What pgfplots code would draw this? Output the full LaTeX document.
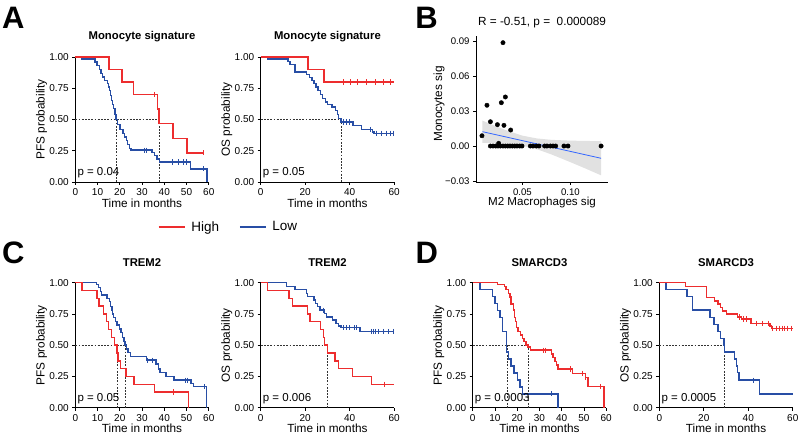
\documentclass[border=0pt]{standalone}
\usepackage{fontspec}
\setmainfont{Liberation Sans}
\usepackage{pgfplots}
\pgfplotsset{compat=1.18}
\definecolor{kmred}{RGB}{237,45,46}
\definecolor{kmblue}{RGB}{40,78,165}
\definecolor{smoothc}{RGB}{51,102,255}
\definecolor{ribbonc}{RGB}{205,205,205}
\pgfplotsset{
  every axis title shift=0pt,
  base/.style={scale only axis, clip=false,
    axis x line*=bottom, axis y line*=left,
    axis line style={line width=0.8pt,-},
    tick align=outside, major tick length=3pt,
    tick style={black, line width=0.8pt},
    ticklabel style={font=\fontsize{10}{11}\selectfont},
    scaled ticks=false},
  km/.style={base, width=133.5pt, height=125pt, xmin=0, xmax=60, ymin=0, ymax=1,
    ytick={0,0.25,0.5,0.75,1}, yticklabels={0.00,0.25,0.50,0.75,1.00},
    xlabel={Time in months},
    xlabel style={at={(axis description cs:0.5,-0.168)}, anchor=center, font=\fontsize{11.8}{13}\selectfont},
    ylabel style={at={(axis description cs:-0.253,0.5)}, anchor=center, font=\fontsize{11.8}{13}\selectfont},
    title style={at={(axis description cs:0.5,1.16)}, anchor=center, font=\bfseries\fontsize{11.3}{13}\selectfont}},
  pfs/.style={km, xtick={0,10,20,30,40,50,60}, xticklabels={0,10,20,30,40,50,60}, ylabel={PFS probability}},
  os/.style={km, xtick={0,20,40,60}, xticklabels={0,20,40,60}, ylabel={OS probability}},
  hi/.style={const plot, color=kmred, line width=1.4pt, mark=none, forget plot},
  lo/.style={const plot, color=kmblue, line width=1.4pt, mark=none, forget plot},
  cens/.style={only marks, mark=|, mark size=2.6pt, line width=1pt, forget plot},
  med/.style={color=black!80, line width=0.5pt, dash pattern=on 1.8pt off 1.4pt, mark=none, forget plot},
}
\newcommand{\pval}[1]{\node[anchor=west, inner sep=0pt, font=\fontsize{11.5}{13}\selectfont] at (axis cs:0.9,0.072) {#1};}
\begin{document}
\begin{tikzpicture}
\useasboundingbox (0,0) rectangle (800pt,443pt);
% panel letters
\node[font=\bfseries\fontsize{31}{31}\selectfont] at (13.3pt,425.5pt) {A};
\node[font=\bfseries\fontsize{31}{31}\selectfont] at (426.5pt,425.5pt) {B};
\node[font=\bfseries\fontsize{31}{31}\selectfont] at (13.3pt,189.7pt) {C};
\node[font=\bfseries\fontsize{31}{31}\selectfont] at (426.7pt,189.7pt) {D};

% ---------------- A : PFS
\begin{axis}[pfs, at={(75.3pt,261pt)}, anchor=south west, title={Monocyte signature},
  legend style={at={(axis description cs:1.148,-0.36)}, anchor=center, draw=none, fill=none,
    legend columns=2, font=\fontsize{13.5}{15}\selectfont,
    /tikz/every even column/.append style={column sep=18pt}},
  legend image code/.code={\draw[#1] (0pt,0pt) -- (26pt,0pt); \path (30pt,0pt);}]
\addlegendimage{color=kmred, line width=1.4pt}\addlegendentry{High}
\addlegendimage{color=kmblue, line width=1.4pt}\addlegendentry{Low}
\addplot[med] coordinates {(0,0.5) (37.7,0.5)};
\addplot[med] coordinates {(18.3,0.5) (18.3,0)};
\addplot[med] coordinates {(37.7,0.5) (37.7,0)};
\addplot[lo] coordinates {(0,1) (2.9,0.985) (8.9,0.96) (9.8,0.93) (10.8,0.90) (11.6,0.87) (12.3,0.84) (13.2,0.81) (14.5,0.79) (14.9,0.76) (15.3,0.73) (15.8,0.69) (16.4,0.65) (16.8,0.62) (17.3,0.59) (17.9,0.54) (18.3,0.50) (19.1,0.46) (20.1,0.42) (21.4,0.39) (22.1,0.36) (22.9,0.33) (23.5,0.30) (24.4,0.27) (25.0,0.255) (34.4,0.235) (35.5,0.21) (36.7,0.185) (37.9,0.16) (51.7,0.105) (59.2,0)};
\addplot[cens, color=kmblue] coordinates {(31.0,0.255) (32.2,0.255) (43.5,0.16) (46.5,0.16) (48.7,0.16) (50.2,0.16) (57.4,0.105)};
\addplot[hi] coordinates {(0,1) (15.2,0.9) (20.9,0.8) (26.2,0.7) (37.0,0.583) (37.7,0.467) (43.9,0.35) (50.2,0.233) (57.4,0.233)};
\addplot[cens, color=kmred] coordinates {(35.5,0.7) (57.4,0.233)};
\pval{p = 0.04}
\end{axis}

% ---------------- A : OS
\begin{axis}[os, at={(260.7pt,261pt)}, anchor=south west, title={Monocyte signature}]
\addplot[med] coordinates {(0,0.5) (36.2,0.5)};
\addplot[med] coordinates {(36.2,0.5) (36.2,0)};
\addplot[lo] coordinates {(0,1) (3,0.985) (12.2,0.965) (13.2,0.94) (15.5,0.88) (20.7,0.86) (21.8,0.835) (23,0.81) (23.9,0.79) (24.9,0.76) (25.8,0.73) (26.9,0.70) (27.9,0.67) (29,0.64) (30,0.62) (32,0.60) (33.5,0.57) (34.4,0.54) (35,0.51) (36,0.48) (41.4,0.45) (45.2,0.42) (50.3,0.40) (51,0.39) (60,0.39)};
\addplot[cens, color=kmblue] coordinates {(37.2,0.48) (38.7,0.48) (39.9,0.48) (49.2,0.42) (52.2,0.39) (54.5,0.39) (56.7,0.39) (58.2,0.39) (59.8,0.39)};
\addplot[hi] coordinates {(0,1) (21.2,0.9) (28.5,0.8) (59.8,0.8)};
\addplot[cens, color=kmred] coordinates {(37.2,0.8) (40.2,0.8) (43.5,0.8) (47.7,0.8) (51.5,0.8) (55.2,0.8) (58.2,0.8)};
\pval{p = 0.05}
\end{axis}

% ---------------- B : scatter
\begin{axis}[base, at={(476pt,261pt)}, anchor=south west, width=132pt, height=145.5pt,
  xmin=0.0017, xmax=0.1392, ymin=-0.0308, ymax=0.0938,
  xtick={0.05,0.1}, xticklabels={0.05,0.10},
  ytick={-0.03,0,0.03,0.06,0.09}, yticklabels={−0.03,0.00,0.03,0.06,0.09},
  ticklabel style={font=\fontsize{9.6}{11}\selectfont},
  xlabel={M2 Macrophages sig}, ylabel={Monocytes sig},
  title={R = -0.51, p =\ \ 0.000089},
  xlabel style={at={(axis description cs:0.5,-0.144)}, anchor=center, font=\fontsize{11.6}{13}\selectfont},
  ylabel style={at={(axis description cs:-0.28,0.536)}, anchor=center, font=\fontsize{11.8}{13}\selectfont},
  title style={at={(axis description cs:0.5,1.093)}, anchor=center, font=\fontsize{11.8}{13}\selectfont}]
\addplot[only marks, mark=*, mark size=2.2pt, color=black] coordinates {
(0.0298,0.0885) (0.0131,0.0349) (0.0281,0.0371) (0.0323,0.042)
(0.0079,0.0088) (0.0167,0.0208) (0.024,0.0183) (0.0308,0.0177) (0.0378,0.0137) (0.0253,0.0023)
(0.0167,0) (0.0194,0) (0.0222,0) (0.0246,0) (0.0271,0) (0.0298,0) (0.0323,0) (0.0347,0) (0.0371,0) (0.0396,0) (0.042,0) (0.0444,0) (0.0472,0) (0.0496,0)
(0.0583,0) (0.061,0) (0.0646,0) (0.0673,0) (0.0732,0) (0.0756,0) (0.0792,0) (0.0819,0) (0.0847,0) (0.0933,0) (0.0975,0) (0.132,0)};
\addplot[draw=none, fill=ribbonc, fill opacity=0.6] coordinates {
(0.0083,0.0218) (0.02,0.0177) (0.035,0.0129) (0.05,0.0089) (0.065,0.0065) (0.08,0.0053) (0.1,0.0046) (0.115,0.0044) (0.132,0.0041)
(0.132,-0.0251) (0.115,-0.0190) (0.1,-0.0138) (0.08,-0.0071) (0.065,-0.0027) (0.05,0.0003) (0.035,0.0019) (0.02,0.0025) (0.0083,0.0028)} -- cycle;
\addplot[color=smoothc, line width=0.8pt, mark=none] coordinates {(0.0083,0.0123) (0.132,-0.0105)};
\end{axis}

% ---------------- C : PFS
\begin{axis}[pfs, at={(75.3pt,35.3pt)}, anchor=south west, title={TREM2}]
\addplot[med] coordinates {(0,0.5) (22.5,0.5)};
\addplot[med] coordinates {(18.7,0.5) (18.7,0)};
\addplot[med] coordinates {(22.5,0.5) (22.5,0)};
\addplot[lo] coordinates {(0,1) (9.4,0.985) (10.4,0.96) (11.2,0.93) (11.9,0.90) (14.2,0.875) (15.3,0.85) (15.7,0.81) (16.5,0.78) (16.8,0.75) (17.2,0.72) (18,0.69) (18.7,0.66) (19.8,0.63) (20.6,0.60) (21.3,0.56) (21.8,0.53) (22.4,0.50) (23,0.47) (23.7,0.44) (24.8,0.41) (31.9,0.38) (36.3,0.35) (37.3,0.31) (38.1,0.28) (40.7,0.25) (44.4,0.22) (52,0.195) (53.2,0.17) (59,0)};
\addplot[cens, color=kmblue] coordinates {(32.5,0.38) (34.8,0.38) (49.7,0.22) (50.5,0.22) (58,0.17)};
\addplot[hi] coordinates {(0,1) (3,0.9375) (9.7,0.875) (10.7,0.8125) (12.7,0.75) (13.9,0.6875) (15,0.625) (16.2,0.5625) (17.6,0.5) (18.7,0.4375) (19.2,0.375) (20.3,0.3125) (22.8,0.25) (26.3,0.1875) (35.7,0.125) (50.8,0)};
\addplot[cens, color=kmred] coordinates {(44,0.125)};
\pval{p = 0.05}
\end{axis}

% ---------------- C : OS
\begin{axis}[os, at={(260.7pt,35.3pt)}, anchor=south west, title={TREM2}]
\addplot[med] coordinates {(0,0.5) (30.1,0.5)};
\addplot[med] coordinates {(30.1,0.5) (30.1,0)};
\addplot[lo] coordinates {(0,1) (11.7,0.97) (15.4,0.945) (20.6,0.915) (21.1,0.89) (23.9,0.86) (24.5,0.835) (25.6,0.81) (26.6,0.78) (28.6,0.755) (29.6,0.725) (32.3,0.70) (33.8,0.675) (34.9,0.655) (36.1,0.64) (44.6,0.61) (60,0.61)};
\addplot[cens, color=kmblue] coordinates {(28.1,0.78) (37.1,0.64) (38.6,0.64) (40.1,0.64) (42,0.64) (43.1,0.64) (49.8,0.61) (50.6,0.61) (51.6,0.61) (52.8,0.61) (55,0.61) (57.3,0.61) (59.6,0.61)};
\addplot[hi] coordinates {(0,1) (3,0.9375) (12.7,0.875) (14.4,0.8125) (21.1,0.75) (22.1,0.6875) (26.9,0.625) (28.1,0.5625) (28.7,0.5) (30.1,0.4375) (33.4,0.375) (34.9,0.3125) (41.3,0.25) (49.8,0.1875) (60,0.1875)};
\addplot[cens, color=kmred] coordinates {(55.8,0.1875)};
\pval{p = 0.006}
\end{axis}

% ---------------- D : PFS
\begin{axis}[pfs, at={(472.7pt,35.3pt)}, anchor=south west, title={SMARCD3}]
\addplot[med] coordinates {(0,0.5) (24.9,0.5)};
\addplot[med] coordinates {(15.4,0.5) (15.4,0)};
\addplot[med] coordinates {(24.9,0.5) (24.9,0)};
\addplot[lo] coordinates {(0,1) (3.3,0.944) (9,0.889) (10,0.833) (11.2,0.778) (12.2,0.722) (13.3,0.611) (15.2,0.444) (16,0.389) (17.2,0.333) (18.5,0.278) (20,0.222) (21.2,0.167) (22.4,0.111) (38.4,0)};
\addplot[cens, color=kmblue] coordinates {(35.4,0.111)};
\addplot[hi] coordinates {(0,1) (11.2,0.985) (14.2,0.97) (14.9,0.945) (16,0.915) (16.7,0.885) (17.2,0.83) (18.2,0.78) (18.7,0.72) (19.3,0.69) (19.7,0.64) (20.4,0.61) (21.5,0.58) (22.4,0.555) (23.1,0.53) (23.9,0.50) (24.9,0.485) (26.1,0.46) (35.4,0.43) (36.1,0.40) (37,0.37) (37.6,0.34) (38.4,0.31) (44.8,0.275) (50.6,0.24) (51.9,0.17) (59,0)};
\addplot[cens, color=kmred] coordinates {(31.9,0.46) (32.8,0.46) (43.9,0.31) (49.3,0.275) (50.9,0.24) (57.5,0.17)};
\pval{p = 0.0003}
\end{axis}

% ---------------- D : OS
\begin{axis}[os, at={(659.3pt,35.3pt)}, anchor=south west, title={SMARCD3}]
\addplot[med] coordinates {(0,0.5) (29.4,0.5)};
\addplot[med] coordinates {(29.4,0.5) (29.4,0)};
\addplot[lo] coordinates {(0,1) (3,0.945) (12.5,0.89) (14.9,0.78) (22.7,0.72) (24.6,0.665) (26.4,0.61) (27.5,0.555) (29,0.50) (29.4,0.445) (33.9,0.39) (34.6,0.335) (35.1,0.28) (35.8,0.22) (45.1,0.11) (60,0.11)};
\addplot[cens, color=kmblue] coordinates {(42.4,0.22)};
\addplot[hi] coordinates {(0,1) (11.9,0.97) (21.2,0.88) (24.9,0.855) (26.4,0.83) (27.5,0.80) (28.4,0.775) (30.1,0.75) (35.1,0.725) (36.9,0.71) (41.3,0.675) (49.7,0.655) (50.3,0.635) (60,0.635)};
\addplot[cens, color=kmred] coordinates {(36,0.725) (38,0.71) (39.3,0.71) (43.6,0.675) (46.6,0.675) (49.1,0.675) (51,0.635) (52.5,0.635) (54,0.635) (55.2,0.635) (56.3,0.635) (57.8,0.635) (59.3,0.635)};
\pval{p = 0.0005}
\end{axis}
\end{tikzpicture}
\end{document}
